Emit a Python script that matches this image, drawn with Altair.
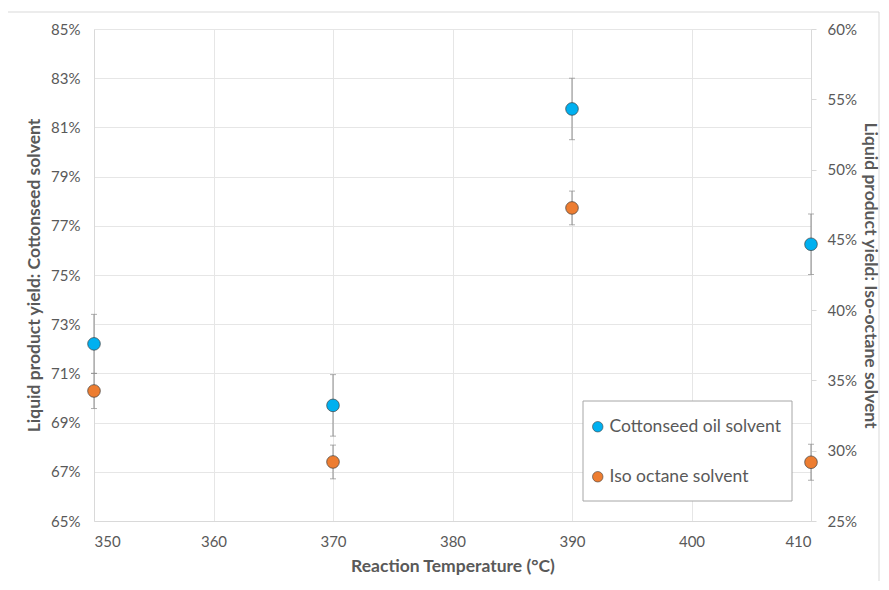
import altair as alt
import pandas as pd

temps = [350, 370, 390, 410]
cotton_yield = [0.722, 0.697, 0.8175, 0.7625]
cotton_err = [0.012, 0.0125, 0.0125, 0.0123]
iso_yield = [0.3425, 0.292, 0.4727, 0.2918]
iso_err = [0.0125, 0.012, 0.012, 0.0128]
series_names = ["Cottonseed oil solvent", "Iso octane solvent"]
series_colors = ["#00B0F0", "#ED7D31"]
x_ticks = [350, 360, 370, 380, 390, 400, 410]
left_ticks = [0.65, 0.67, 0.69, 0.71, 0.73, 0.75, 0.77, 0.79, 0.81, 0.83, 0.85]
right_ticks = [0.25, 0.30, 0.35, 0.40, 0.45, 0.50, 0.55, 0.60]

cotton = pd.DataFrame({
    "temp": temps, "y": cotton_yield,
    "lo": [v - e for v, e in zip(cotton_yield, cotton_err)],
    "hi": [v + e for v, e in zip(cotton_yield, cotton_err)],
    "series": series_names[0],
})
iso = pd.DataFrame({
    "temp": temps, "y": iso_yield,
    "lo": [v - e for v, e in zip(iso_yield, iso_err)],
    "hi": [v + e for v, e in zip(iso_yield, iso_err)],
    "series": series_names[1],
})

FONT = "Lato"
GRAY = "#595959"

xaxis = alt.Axis(values=x_ticks, title="Reaction Temperature (°C)", ticks=False,
                 labelPadding=13, titlePadding=8, domainColor="#d9d9d9",
                 gridColor="#e6e6e6")
xsc = alt.Scale(domain=[350, 410], nice=False, zero=False)
color = alt.Color("series:N", scale=alt.Scale(domain=series_names, range=series_colors),
                  legend=alt.Legend(title=None, orient="none", legendX=495, legendY=389,
                                    direction="vertical", labelFontSize=17.5, labelColor=GRAY,
                                    labelFont=FONT, symbolSize=110, symbolType="circle",
                                    symbolStrokeColor="#404040", symbolStrokeWidth=0.6,
                                    rowPadding=31, labelOffset=3, labelLimit=400))


def series_layer(df, domain, axis):
    ysc = alt.Scale(domain=domain, nice=False, zero=False)
    x = alt.X("temp:Q", scale=xsc, axis=xaxis)
    rule = alt.Chart(df).mark_rule(color="#8c8c8c", strokeWidth=1).encode(
        x=x, y=alt.Y("lo:Q", scale=ysc, axis=axis), y2="hi:Q")
    cap_hi = alt.Chart(df).mark_tick(orient="horizontal", size=6, thickness=1, color="#8c8c8c").encode(
        x=x, y=alt.Y("hi:Q", scale=ysc, axis=axis))
    cap_lo = alt.Chart(df).mark_tick(orient="horizontal", size=6, thickness=1, color="#8c8c8c").encode(
        x=x, y=alt.Y("lo:Q", scale=ysc, axis=axis))
    pts = alt.Chart(df).mark_point(filled=True, size=160, opacity=1, stroke="#404040",
                                   strokeWidth=0.7).encode(
        x=x, y=alt.Y("y:Q", scale=ysc, axis=axis), color=color)
    return alt.layer(rule, cap_hi, cap_lo, pts)


left_axis = alt.Axis(values=left_ticks, format=".0%", orient="left",
                     title="Liquid product yield: Cottonseed solvent", ticks=False,
                     labelPadding=14, titlePadding=7, domainColor="#d9d9d9",
                     gridColor="#e6e6e6")
right_axis = alt.Axis(values=right_ticks, format=".0%", orient="right", grid=False,
                      title="Liquid product yield: Iso-octane solvent", tickSize=5,
                      tickColor="#d9d9d9", labelPadding=11, titlePadding=4,
                      domainColor="#d9d9d9")

box_data = alt.Data(values=[{}])
outer = alt.Chart(box_data).mark_rect(fill=None, stroke="#d9d9d9", strokeWidth=1).encode(
    x=alt.value(-87), x2=alt.value(785), y=alt.value(-17), y2=alt.value(600))
legend_box = alt.Chart(box_data).mark_rect(fill="white", stroke="#a6a6a6", strokeWidth=1).encode(
    x=alt.value(489), x2=alt.value(698), y=alt.value(372), y2=alt.value(472))

chart = alt.layer(
    series_layer(cotton, [0.65, 0.85], left_axis),
    series_layer(iso, [0.25, 0.60], right_axis),
    legend_box,
    outer,
).resolve_scale(y="independent").properties(
    width=717, height=492,
    autosize=alt.AutoSizeParams(type="none"),
    padding={"left": 86, "top": 21, "right": 70, "bottom": 60},
    background="white",
).configure_axis(
    labelFont=FONT, labelFontSize=15, labelColor=GRAY,
    titleFont=FONT, titleFontSize=17.5, titleFontWeight="bold", titleColor=GRAY,
).configure_view(stroke=None)

chart.save("out.html", embed_options={"renderer": "svg", "actions": False})
